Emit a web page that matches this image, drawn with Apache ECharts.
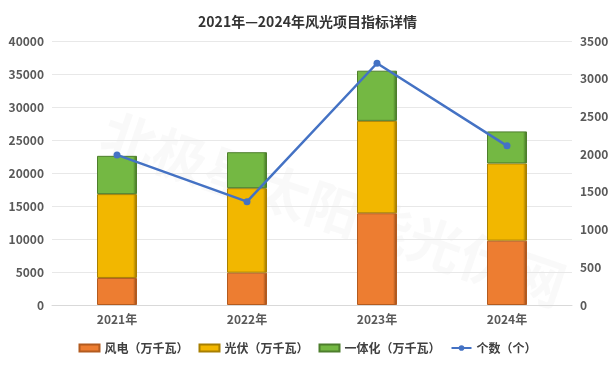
<!DOCTYPE html>
<html><head><meta charset="utf-8">
<script src="https://cdn.jsdelivr.net/npm/echarts@6/dist/echarts.min.js"></script>
<style>html,body{margin:0;padding:0;background:#fff}#c{width:615px;height:365px}</style>
</head><body><div id="c"></div>
<script>
const categories = ['2021年','2022年','2023年','2024年'];
const wind = [4100, 4900, 13900, 9750];
const solar = [12700, 12800, 14000, 11700];
const integ = [5800, 5450, 7600, 4850];
const count = [1990, 1370, 3205, 2110];
const leftTicks = [0, 40000, 5000];
const rightTicks = [0, 3500, 500];

function shade(base, dark){
  return {type:'linear',x:0,y:0,x2:1,y2:0,colorStops:[
    {offset:0,color:base},{offset:0.9,color:base},{offset:1,color:dark}]};
}
const font = '"Noto Sans CJK SC", sans-serif';
const chart = echarts.init(document.getElementById('c'));
chart.setOption({
  animation:false,
  textStyle:{fontFamily:font},
  title:{text:'2021年—2024年风光项目指标详情',left:'center',top:10,
    textStyle:{fontSize:14,fontWeight:'bold',color:'#333',fontFamily:font}},
  graphic:[{type:'text',left:95,top:105,rotation:-0.33,
    style:{text:'北极星太阳能光伏网',fontSize:54,fontWeight:'bold',fill:'rgba(200,200,200,0.11)',fontFamily:font}}],
  grid:{left:52,right:43,top:41,bottom:60},
  legend:{bottom:6,itemWidth:20,itemHeight:7,itemGap:10,
    textStyle:{fontSize:12,color:'#404040',fontWeight:'bold',fontFamily:font},
    data:[{name:'风电（万千瓦）',icon:'rect'},{name:'光伏（万千瓦）',icon:'rect'},{name:'一体化（万千瓦）',icon:'rect'},'个数（个）']},
  xAxis:{type:'category',data:categories,
    axisLine:{lineStyle:{color:'#d9d9d9'}},axisTick:{show:false},
    axisLabel:{color:'#595959',fontSize:12,fontWeight:'bold',margin:8}},
  yAxis:[
    {type:'value',min:leftTicks[0],max:leftTicks[1],interval:leftTicks[2],
     axisLabel:{color:'#595959',fontSize:12,fontWeight:'bold',formatter:v=>String(v)},
     splitLine:{lineStyle:{color:'#e8e8e8'}},axisLine:{show:false}},
    {type:'value',min:rightTicks[0],max:rightTicks[1],interval:rightTicks[2],
     axisLabel:{color:'#595959',fontSize:12,fontWeight:'bold',formatter:v=>String(v)},
     splitLine:{show:false},axisLine:{show:false}}
  ],
  series:[
    {name:'风电（万千瓦）',type:'bar',stack:'a',data:wind,barWidth:40,
     itemStyle:{color:shade('#ED7D31','#8a4416'),borderColor:'#b35b1f',borderWidth:1}},
    {name:'光伏（万千瓦）',type:'bar',stack:'a',data:solar,barWidth:40,
     itemStyle:{color:shade('#F2B700','#8c6a00'),borderColor:'#a87f00',borderWidth:1}},
    {name:'一体化（万千瓦）',type:'bar',stack:'a',data:integ,barWidth:40,
     itemStyle:{color:shade('#74B843','#3d6a22'),borderColor:'#4d7e2c',borderWidth:1}},
    {name:'个数（个）',type:'line',yAxisIndex:1,data:count,
     symbol:'circle',symbolSize:7,
     lineStyle:{color:'#4472C4',width:2.5},itemStyle:{color:'#4472C4'}}
  ]
});
</script></body></html>
